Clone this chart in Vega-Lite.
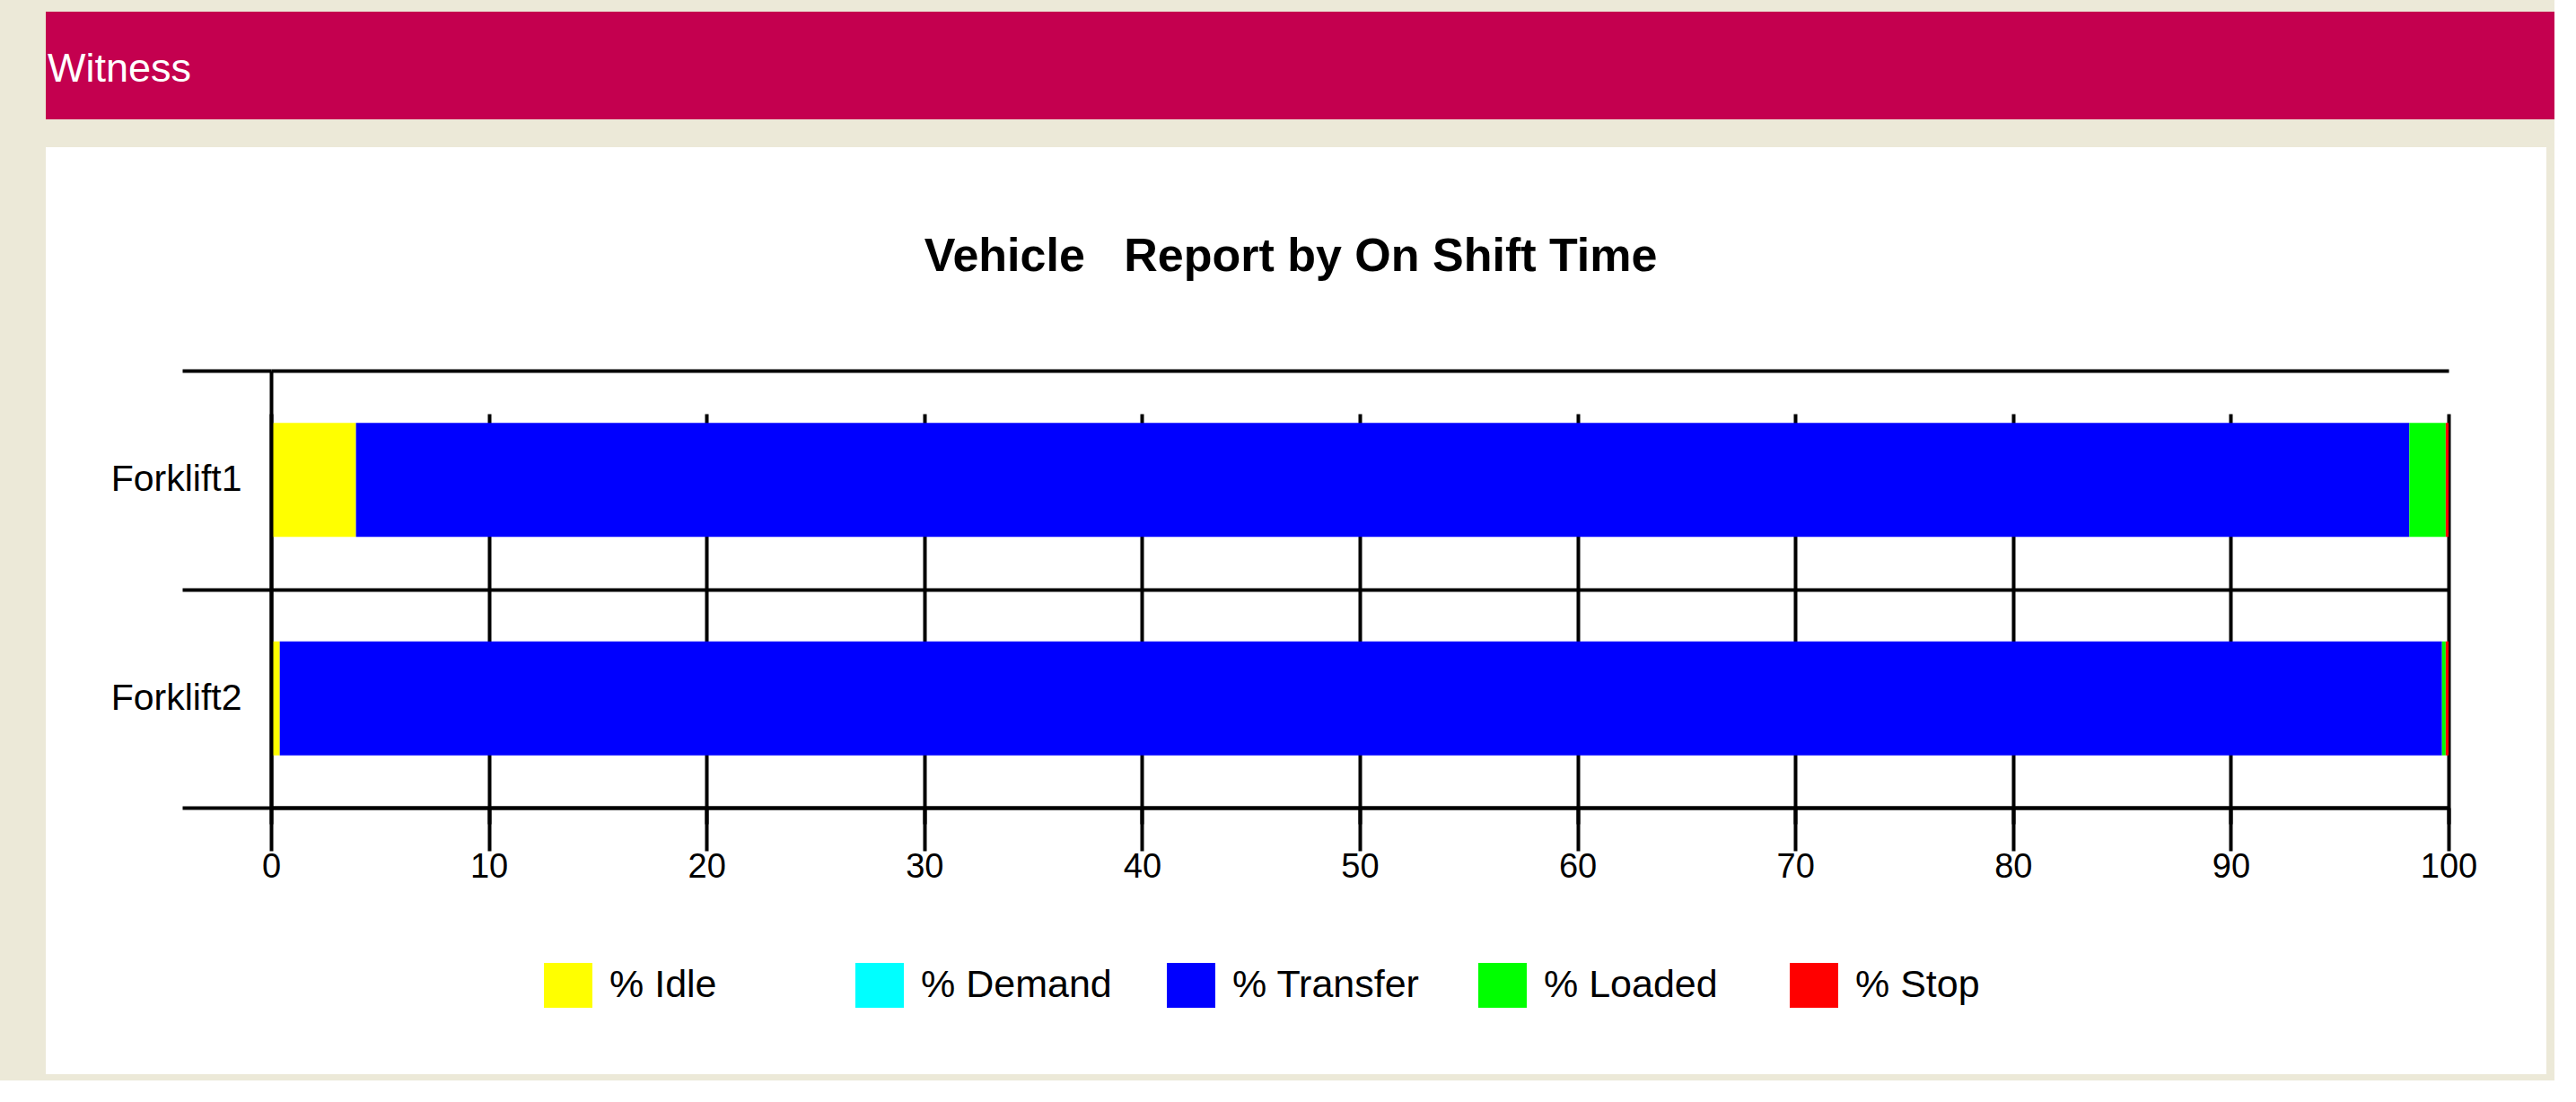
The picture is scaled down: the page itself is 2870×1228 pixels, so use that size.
{
  "$schema": "https://vega.github.io/schema/vega-lite/v6.json",
  "background": "#ECE9D8",
  "padding": {"left": 51, "top": 13, "right": 0, "bottom": 7},
  "spacing": 31,
  "bounds": "flush",
  "config": {"font": "Liberation Sans"},
  "vconcat": [
    {
      "width": 2795,
      "height": 120,
      "view": {"fill": "#C4004F", "stroke": null},
      "data": {"values": []},
      "mark": {"type": "text"},
      "encoding": {},
      "title": {
        "text": "Witness",
        "anchor": "start",
        "orient": "top",
        "offset": -123,
        "baseline": "alphabetic",
        "dx": 2,
        "color": "white",
        "font": "Liberation Sans",
        "fontSize": 45,
        "fontWeight": "normal"
      }
    },
    {
      "width": 2786,
      "height": 1033,
      "view": {"fill": "white", "stroke": null},
      "title": {
        "text": "Vehicle\u00a0\u00a0\u00a0Report by On Shift Time",
        "anchor": "middle",
        "offset": -211,
        "baseline": "alphabetic",
        "dx": -6,
        "color": "black",
        "font": "Liberation Sans",
        "fontSize": 52,
        "fontWeight": "bold"
      },
      "data": {
        "values": [
          {"vehicle": "Forklift1", "state": "% Idle", "k": 1, "pct": 3.9},
          {"vehicle": "Forklift1", "state": "% Demand", "k": 2, "pct": 0},
          {"vehicle": "Forklift1", "state": "% Transfer", "k": 3, "pct": 94.3},
          {"vehicle": "Forklift1", "state": "% Loaded", "k": 4, "pct": 1.67},
          {"vehicle": "Forklift1", "state": "% Stop", "k": 5, "pct": 0.13},
          {"vehicle": "Forklift2", "state": "% Idle", "k": 1, "pct": 0.4},
          {"vehicle": "Forklift2", "state": "% Demand", "k": 2, "pct": 0},
          {"vehicle": "Forklift2", "state": "% Transfer", "k": 3, "pct": 99.3},
          {"vehicle": "Forklift2", "state": "% Loaded", "k": 4, "pct": 0.17},
          {"vehicle": "Forklift2", "state": "% Stop", "k": 5, "pct": 0.13}
        ]
      },
      "mark": {"type": "bar", "zindex": 1, "height": 127},
      "encoding": {
        "y": {
          "field": "vehicle",
          "type": "nominal",
          "sort": null,
          "scale": {"range": [249, 736], "paddingInner": 0, "paddingOuter": 0},
          "axis": {
            "orient": "left",
            "offset": -251,
            "title": null,
            "zindex": 2,
            "domain": true,
            "domainColor": "black",
            "domainWidth": 4,
            "ticks": true,
            "tickBand": "extent",
            "tickSize": 99,
            "tickColor": "black",
            "tickWidth": 4,
            "grid": true,
            "gridColor": "black",
            "gridWidth": 4,
            "gridOpacity": 1,
            "labelFont": "Liberation Sans",
            "labelFontSize": 41,
            "labelColor": "black",
            "labelPadding": -66,
            "labelAlign": "right",
            "labelBaseline": "middle"
          }
        },
        "x": {
          "field": "pct",
          "type": "quantitative",
          "stack": "zero",
          "scale": {"domain": [0, 100], "range": [251, 2677], "nice": false},
          "axis": {
            "orient": "bottom",
            "offset": -297,
            "title": null,
            "zindex": 0,
            "values": [0, 10, 20, 30, 40, 50, 60, 70, 80, 90, 100],
            "domain": true,
            "domainColor": "black",
            "domainWidth": 4,
            "ticks": true,
            "tickSize": 18,
            "tickColor": "black",
            "tickWidth": 4,
            "grid": true,
            "gridColor": "black",
            "gridWidth": 4,
            "gridOpacity": 1,
            "labelFont": "Liberation Sans",
            "labelFontSize": 38,
            "labelColor": "black",
            "labelPadding": 29,
            "labelFlush": false,
            "labelOverlap": false
          }
        },
        "color": {
          "field": "state",
          "type": "nominal",
          "scale": {
            "domain": ["% Idle", "% Demand", "% Transfer", "% Loaded", "% Stop"],
            "range": ["#FFFF00", "#00FFFF", "#0000FF", "#00FF00", "#FF0000"]
          },
          "legend": {
            "orient": "none",
            "legendX": 557,
            "legendY": 1060,
            "direction": "horizontal",
            "columns": 5,
            "gridAlign": "all",
            "columnPadding": 61,
            "title": null,
            "padding": 0,
            "symbolType": "M-1.08,-1H1.08V1H-1.08Z",
            "symbolSize": 2500,
            "symbolStrokeWidth": 0,
            "symbolOpacity": 1,
            "labelFont": "Liberation Sans",
            "labelFontSize": 43,
            "labelColor": "black",
            "labelOffset": 21,
            "labelLimit": 0
          }
        },
        "order": {"field": "k", "type": "quantitative"}
      }
    }
  ]
}
